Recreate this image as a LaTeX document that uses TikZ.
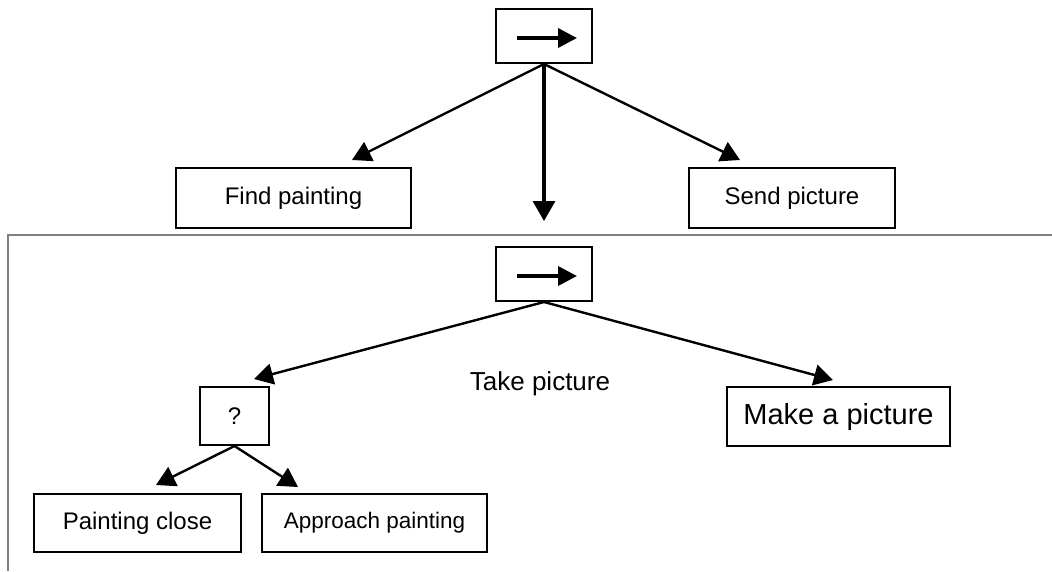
\documentclass[tikz,border=0pt]{standalone}
\usepackage{fontspec}
\setmainfont{Liberation Sans}
\usetikzlibrary{arrows.meta}
\begin{document}
\begin{tikzpicture}[x=1pt,y=-1pt,
  box/.style={draw, line width=2pt, inner sep=0pt, font=\fontsize{24}{28}\selectfont},
  seqbox/.style={box, minimum width=96pt, minimum height=54pt},
  seqmark/.style={line width=3.6pt, -{Triangle[length=19pt,width=19pt]}},
  link/.style={line width=2.4pt, -{Triangle[length=19pt,width=21pt]}},
  biglink/.style={line width=3.4pt, -{Triangle[length=20pt,width=22pt]}},
  caption/.style={font=\fontsize{26}{30}\selectfont},
]
\useasboundingbox (0,0) rectangle (1052,571);

% frame around the expanded subtree
\draw[gray, line width=2pt] (1052,235) -- (8,235) -- (8,571);

% upper sequence
\node[seqbox] (seqA) at (544,36) {};
\draw[seqmark] ([shift={(-27pt,-2pt)}]seqA.center) -- ([shift={(33pt,-2pt)}]seqA.center);
\node[box, minimum width=235pt, minimum height=60pt] (find) at (293.5,198) {Find painting};
\node[box, minimum width=206pt, minimum height=60pt] (send) at (792,198) {Send picture};

\coordinate (tipFind) at (352,160);
\coordinate (tipSend) at (740,160);
\coordinate (tipDown) at (544,221);

\draw[link] (seqA.south) -- (tipFind);
\draw[link] (seqA.south) -- (tipSend);
\draw[biglink] (seqA.south) -- (tipDown);

% expanded "Take picture" subtree
\node[seqbox] (seqB) at (544,274) {};
\draw[seqmark] ([shift={(-27pt,-2pt)}]seqB.center) -- ([shift={(33pt,-2pt)}]seqB.center);
\node[caption] (take) at (540,384) {Take picture};
\node[box, minimum width=69pt, minimum height=58pt] (sel) at (234.5,416) {?};
\node[box, minimum width=223pt, minimum height=59pt, font=\fontsize{29}{34}\selectfont] (make) at (838.5,416.5) {Make a picture};
\node[box, minimum width=207pt, minimum height=58pt] (close) at (137.5,523) {Painting close};
\node[box, minimum width=225pt, minimum height=58pt, font=\fontsize{22.5}{27}\selectfont] (approach) at (374.5,523) {Approach painting};

\coordinate (tipSel) at (254,379);
\coordinate (tipMake) at (833,380);
\coordinate (tipClose) at (156,485);
\coordinate (tipApproach) at (298,487);

\draw[link] (seqB.south) -- (tipSel);
\draw[link] (seqB.south) -- (tipMake);
\draw[link] (sel.south) -- (tipClose);
\draw[link] (sel.south) -- (tipApproach);
\end{tikzpicture}
\end{document}
